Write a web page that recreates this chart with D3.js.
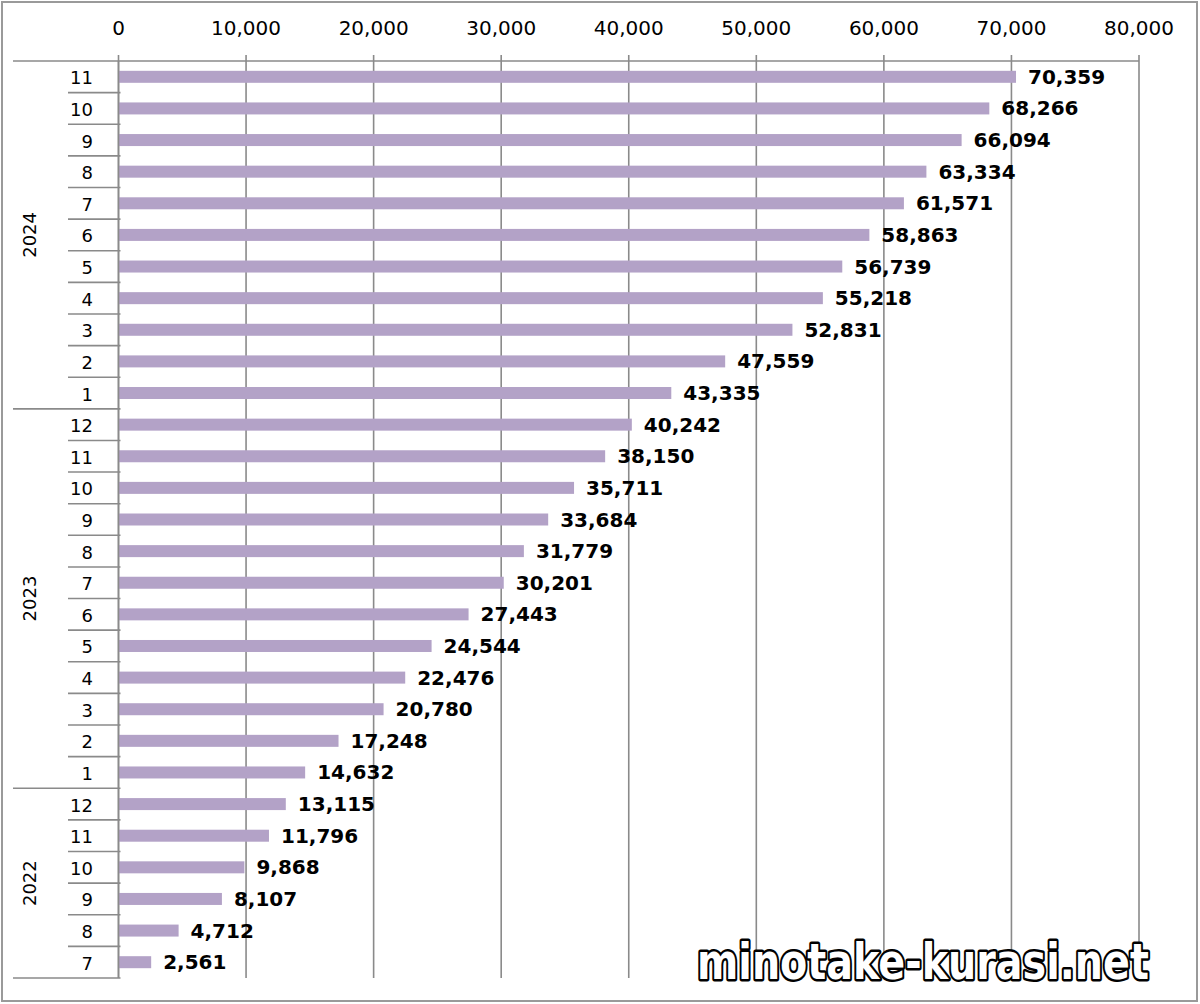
<!DOCTYPE html>
<html><head><meta charset="utf-8">
<script src="https://cdn.jsdelivr.net/npm/d3@7/dist/d3.min.js"></script>
<style>body{margin:0;background:#fff}svg{display:block}</style>
</head><body>
<svg id="c" width="1200" height="1004"></svg>
<script>
const years = ["2024", "2023", "2022"];
const months2024 = ["11","10","9","8","7","6","5","4","3","2","1"];
const values2024 = [70359,68266,66094,63334,61571,58863,56739,55218,52831,47559,43335];
const months2023 = ["12","11","10","9","8","7","6","5","4","3","2","1"];
const values2023 = [40242,38150,35711,33684,31779,30201,27443,24544,22476,20780,17248,14632];
const months2022 = ["12","11","10","9","8","7"];
const values2022 = [13115,11796,9868,8107,4712,2561];
const xTicks = [0,10000,20000,30000,40000,50000,60000,70000,80000];

const groups = [
  {year: years[0], months: months2024, values: values2024},
  {year: years[1], months: months2023, values: values2023},
  {year: years[2], months: months2022, values: values2022}
];
const rows = [];
groups.forEach(g => g.months.forEach((m, i) => rows.push({year: g.year, month: m, value: g.values[i], key: g.year + "-" + m})));

const svg = d3.select("#c");
const L = 118.5, R = 1139, T = 61, B = 978;
const x = d3.scaleLinear().domain([0, 80000]).range([L, R]);
const y = d3.scaleBand().domain(rows.map(r => r.key)).range([T, B]).paddingInner(0).paddingOuter(0);
const grid = "#8a8a8a";
const FONT = "DejaVu Sans, Verdana, sans-serif";

// outer border
svg.append("rect").attr("x", 2).attr("y", 2).attr("width", 1195).attr("height", 999)
  .attr("fill", "#fff").attr("stroke", "#9a9a9a").attr("stroke-width", 2);

// gridlines
svg.append("g").selectAll("line").data(xTicks).join("line")
  .attr("x1", d => x(d)).attr("x2", d => x(d)).attr("y1", T - 6).attr("y2", B)
  .attr("stroke", grid).attr("stroke-width", 1.6);

// top axis line
svg.append("line").attr("x1", 13).attr("x2", R).attr("y1", T).attr("y2", T)
  .attr("stroke", grid).attr("stroke-width", 1.6);

// top tick labels
svg.append("g").selectAll("text").data(xTicks).join("text")
  .attr("x", d => x(d)).attr("y", 35).attr("text-anchor", "middle")
  .attr("font-family", FONT).attr("font-size", 20)
  .attr("fill", "#000").text(d => d3.format(",")(d));

// bars
const barH = 12;
svg.append("g").selectAll("rect").data(rows).join("rect")
  .attr("x", x(0)).attr("y", d => y(d.key) + y.bandwidth() / 2 - barH / 2)
  .attr("width", d => x(d.value) - x(0)).attr("height", barH)
  .attr("fill", "#b3a2c7");

// value labels
svg.append("g").selectAll("text").data(rows).join("text")
  .attr("x", d => x(d.value) + 12).attr("y", d => y(d.key) + y.bandwidth() / 2)
  .attr("dominant-baseline", "central")
  .attr("font-family", FONT).attr("font-size", 20)
  .attr("font-weight", "bold").attr("fill", "#000").text(d => d3.format(",")(d.value));

// vertical axis line
svg.append("line").attr("x1", x(0)).attr("x2", x(0)).attr("y1", T).attr("y2", B)
  .attr("stroke", grid).attr("stroke-width", 1.6);

// category separators
const sep = svg.append("g");
rows.forEach((r, i) => {
  if (i === 0) return;
  const yy = y(r.key);
  const yearStart = rows[i - 1].year !== r.year;
  sep.append("line").attr("x1", yearStart ? 13 : 68).attr("x2", x(0) + 2).attr("y1", yy).attr("y2", yy)
    .attr("stroke", grid).attr("stroke-width", 1.6);
});
sep.append("line").attr("x1", 13).attr("x2", x(0) + 2).attr("y1", B).attr("y2", B)
  .attr("stroke", grid).attr("stroke-width", 1.6);

// month labels
svg.append("g").selectAll("text").data(rows).join("text")
  .attr("x", 93).attr("y", d => y(d.key) + y.bandwidth() / 2 + 1)
  .attr("text-anchor", "end").attr("dominant-baseline", "central")
  .attr("font-family", FONT).attr("font-size", 18)
  .attr("fill", "#000").text(d => d.month);

// year labels
groups.forEach(g => {
  const first = rows.find(r => r.year === g.year);
  const lastKey = g.year + "-" + g.months[g.months.length - 1];
  const cy = (y(first.key) + y(lastKey) + y.bandwidth()) / 2;
  svg.append("text").attr("transform", `translate(29,${cy}) rotate(-90)`)
    .attr("text-anchor", "middle").attr("dominant-baseline", "central")
    .attr("font-family", FONT).attr("font-size", 18)
    .attr("fill", "#000").text(g.year);
});

// watermark
const wm = svg.append("text")
  .attr("font-family", "DejaVu Sans, sans-serif").attr("font-weight", "bold").attr("font-size", 50)
  .attr("fill", "#fff").attr("stroke", "#000").attr("stroke-width", 5).attr("stroke-linejoin", "round")
  .attr("paint-order", "stroke").text("minotake-kurasi.net");
const natural = wm.node().getComputedTextLength();
const sx = 452 / natural;
wm.attr("transform", `translate(697,979) scale(${sx},1)`);
</script>
</body></html>
